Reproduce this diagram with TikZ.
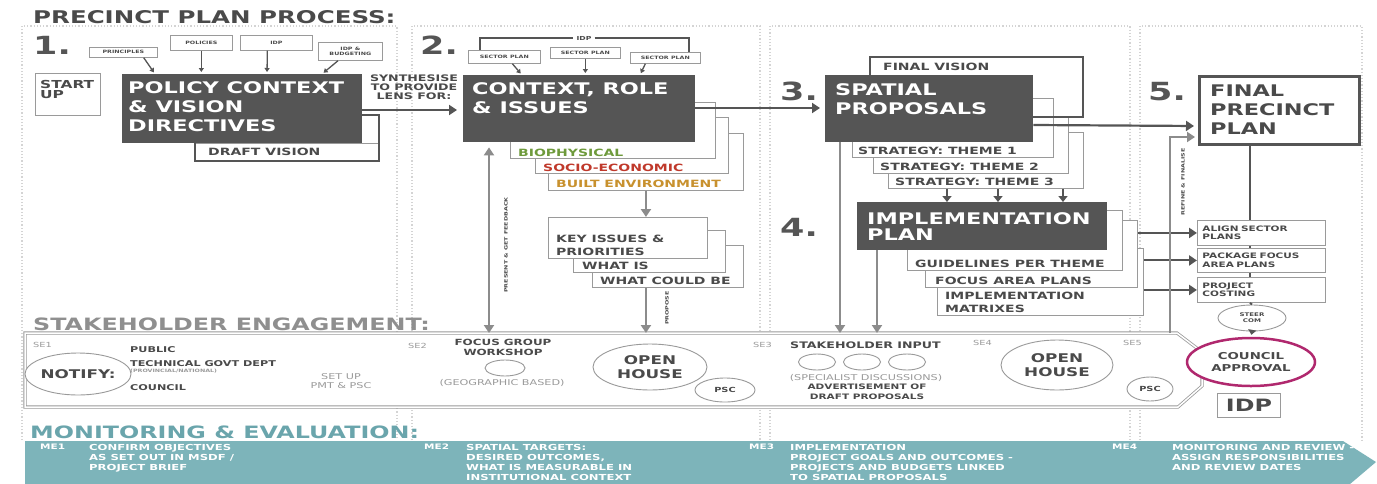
\documentclass[tikz,border=0pt]{standalone}
\usepackage{fontspec}
\newfontfamily\widefont[FakeStretch=1.4]{DejaVu Sans}
\newcommand\wb{\widefont\bfseries}
\usetikzlibrary{arrows.meta,positioning,shapes.geometric}
\definecolor{dk}{HTML}{555555}
\definecolor{ln}{HTML}{9A9A9A}
\definecolor{tx}{HTML}{4A4A4A}
\definecolor{ar}{HTML}{8C8C8C}
\definecolor{sep}{HTML}{D4D4D4}
\definecolor{bioc}{HTML}{6E9A3C}
\definecolor{socc}{HTML}{C0392B}
\definecolor{bltc}{HTML}{C8912E}
\definecolor{couc}{HTML}{B0286E}
\definecolor{metl}{HTML}{7DB4BA}
\definecolor{mehd}{HTML}{6AA5AC}
\definecolor{sehd}{HTML}{8F8F8F}
\tikzset{
  darkbox/.style={fill=dk, anchor=north west, inner sep=0pt},
  thinbox/.style={draw=ln, fill=white, line width=0.9pt, anchor=north west, inner sep=0pt},
  srcbox/.style={thinbox, line width=0.7pt, text=tx, align=center, font=\wb\fontsize{4.5}{5.5}\selectfont},
  bigtxt/.style={text=white, font=\wb\fontsize{16}{19}\selectfont, align=left, inner sep=0pt},
  midtxt/.style={text=tx, font=\wb\fontsize{10}{13}\selectfont, align=left, inner sep=0pt},
  smtxt/.style={text=tx, font=\wb\fontsize{8}{10}\selectfont, align=center, inner sep=0pt},
  tinytxt/.style={text=tx, font=\wb\fontsize{4.5}{5.5}\selectfont, align=center, inner sep=0pt},
  greytxt/.style={text=ln, font=\widefont\fontsize{8}{9.5}\selectfont, align=center, inner sep=0pt},
  setag/.style={text=ln, font=\widefont\fontsize{7}{7}\selectfont, anchor=west, inner sep=0pt},
  stepnum/.style={text=dk, font=\wb\fontsize{25}{25}\selectfont, anchor=north west, inner sep=0pt},
  bubble/.style={ellipse, draw=ln, line width=0.9pt, fill=white, inner sep=0pt, text=tx, align=center},
  flow/.style={draw=dk, line width=2.2pt, -{Triangle[length=8pt,width=10pt]}},
  gflow/.style={draw=ar, line width=2.5pt, -{Triangle[length=8pt,width=10pt]}},
  sflow/.style={draw=dk, line width=1.3pt, shorten >=2pt, -{Triangle[length=4pt,width=5pt]}},
  loopline/.style={draw=dk, line width=2.6pt},
  hd/.style={font=\wb\fontsize{17}{17}\selectfont, anchor=base west, inner sep=0pt},
  metxt/.style={text=white, font=\wb\fontsize{8.3}{10}\selectfont, align=left, anchor=north west, inner sep=0pt}
}
\begin{document}
\begin{tikzpicture}[x=1pt,y=-1pt]
\useasboundingbox (0,0) rectangle (1377,483);
\clip (0,0) rectangle (1377,483);
\fill[white] (0,0) rectangle (1377,483);

% column frames
\foreach \a/\b in {22/397,412/760,770/1130,1140/1362}
  \draw[sep, dotted, line width=1.2pt] (\a,440) -- (\a,26) -- (\b,26) -- (\b,440);

\node[hd, text=tx, font=\wb\fontsize{17.5}{17.5}\selectfont] (title) at (33,23) {PRECINCT PLAN PROCESS:};

% stakeholder band
\coordinate (setop) at (0,333);
\draw[ln, line width=0.8pt, double=white, double distance=1.5pt, fill=white]
  (25,333) -- (1177,333) -- (1202,352) -- (1202,386) -- (1178,407) -- (25,407) -- cycle;
\node[hd, text=sehd] (sehead) at (33,330) {STAKEHOLDER ENGAGEMENT:};

% 1. policy context
\node[stepnum] (n1) at (33,36) {1.};
\node[srcbox, minimum width=68, minimum height=10] (princ) at (89,47) {PRINCIPLES};
\node[srcbox, minimum width=62, minimum height=15] (polc) at (170,35) {POLICIES};
\node[srcbox, minimum width=72, minimum height=15] (idp1) at (240,35) {IDP};
\node[srcbox, minimum width=64, minimum height=18] (budg) at (318,42) {IDP \&\\BUDGETING};
\node[thinbox, minimum width=65, minimum height=42] (start) at (35,73) {};
\node[midtxt, font=\wb\fontsize{11}{10.5}\selectfont, below right=7pt and 5pt of start.north west] (starttxt) {START\\UP};
\node[thinbox, minimum width=183, minimum height=17] (draft) at (195,143) {};
\node[midtxt, right=13pt of draft.west] (drafttxt) {DRAFT VISION};
\node[darkbox, minimum width=240, minimum height=69] (pol) at (122,74) {};
\node[bigtxt, below right=7pt and 6pt of pol.north west] (poltxt) {POLICY CONTEXT\\\& VISION\\DIRECTIVES};
\draw[sflow] ([xshift=-14pt]princ.south east) -- ([xshift=33pt]pol.north west);
\draw[sflow] (polc.south) -- (polc.south |- pol.north);
\draw[sflow] ([xshift=-9pt]idp1.south) -- ([xshift=145pt]pol.north west);
\draw[sflow] ([xshift=20pt]budg.south west) -- ([xshift=200pt]pol.north west);
\draw[loopline] ([yshift=-41pt]pol.north east) -| (draft.south east) -- (draft.south west) -- (draft.north west);
\node[smtxt, font=\wb\fontsize{9}{9}\selectfont, anchor=north] (syn) at (414,75) {SYNTHESISE\\TO PROVIDE\\LENS FOR:};

% 2. context, role & issues
\node[stepnum] (n2) at (420,36) {2.};
\node[thinbox, minimum width=195, minimum height=57] (blt) at (548,133) {};
\node[thinbox, minimum width=193, minimum height=56] (soc) at (535,117) {};
\node[thinbox, minimum width=205, minimum height=56] (bio) at (510,102) {};
\node[darkbox, minimum width=232, minimum height=67] (ctx) at (463,75) {};
\node[bigtxt, below right=7pt and 9pt of ctx.north west] (ctxtxt) {CONTEXT, ROLE\\\& ISSUES};
\node[midtxt, text=bioc, above right=2pt and 8pt of bio.south west] (biotxt) {BIOPHYSICAL};
\node[midtxt, text=socc, above right=2pt and 8pt of soc.south west] (soctxt) {SOCIO-ECONOMIC};
\node[midtxt, text=bltc, above right=3pt and 8pt of blt.south west] (blttxt) {BUILT ENVIRONMENT};
\node[srcbox, minimum width=72, minimum height=13] (sp1) at (468,50) {SECTOR PLAN};
\node[srcbox, minimum width=70, minimum height=11] (sp2) at (550,47) {SECTOR PLAN};
\node[srcbox, minimum width=70, minimum height=11] (sp3) at (630,52) {SECTOR PLAN};
\node[tinytxt, font=\wb\fontsize{5.5}{6}\selectfont, inner sep=3pt] (idp2) at (584,38) {IDP};
\draw[dk, line width=1.6pt] ([xshift=12pt]sp1.north west) |- (idp2.west);
\draw[dk, line width=1.6pt] (idp2.east) -| ([xshift=-12pt]sp3.north east);
\draw[sflow] ([xshift=8pt]sp1.south) -- ([xshift=59pt]ctx.north west);
\draw[sflow] (sp2.south) -- (sp2.south |- ctx.north);
\draw[sflow] ([xshift=-20pt]sp3.south) -- ([xshift=177pt]ctx.north west);
\draw[flow, shorten >=6pt] ([yshift=-36pt]pol.north east) -- ([yshift=-35pt]ctx.north west);
\node[thinbox, minimum width=151, minimum height=42] (key3) at (592,245) {};
\node[thinbox, minimum width=152, minimum height=42] (key2) at (573,230) {};
\node[thinbox, minimum width=159, minimum height=41] (key1) at (548,217) {};
\node[midtxt, above right=3pt and 8pt of key1.south west] (key1txt) {KEY ISSUES \&\\PRIORITIES};
\node[midtxt, above right=3pt and 9pt of key2.south west] (key2txt) {WHAT IS};
\node[midtxt, above right=3pt and 8pt of key3.south west] (key3txt) {WHAT COULD BE};
\draw[gflow] (blt.south) -- (blt.south |- key1.north);
\coordinate (kp) at ([xshift=-22pt]key3.south);
\draw[gflow] (kp) -- (kp |- setop);
\node[tinytxt, rotate=90] (proptxt) at (667,308) {PROPOSE};
\coordinate (fb) at ([xshift=26pt]ctx.south west);
\draw[gflow, {Triangle[length=8pt,width=10pt]}-{Triangle[length=8pt,width=10pt]}, shorten <=5pt] (fb) -- (fb |- setop);
\node[tinytxt, rotate=90] (fbtxt) at (506,245) {PRESENT \& GET FEEDBACK};

% 3. spatial proposals
\node[stepnum] (n3) at (780,82) {3.};
\node[thinbox, minimum width=195, minimum height=56] (st3) at (888,132) {};
\node[thinbox, minimum width=195, minimum height=56] (st2) at (873,117) {};
\node[thinbox, minimum width=201, minimum height=59] (st1) at (852,98) {};
\node[darkbox, minimum width=208, minimum height=67] (spa) at (825,75) {};
\node[bigtxt, below right=8pt and 10pt of spa.north west] (spatxt) {SPATIAL\\PROPOSALS};
\coordinate (fv) at (1083,57);
\draw[loopline] ([xshift=45pt]spa.north west) |- (fv) |- ([yshift=-42pt]spa.north east);
\node[midtxt, anchor=west] (fvtxt) at (883,67) {FINAL VISION};
\node[midtxt, above right=3pt and 6pt of st1.south west] (st1txt) {STRATEGY: THEME 1};
\node[midtxt, above right=3pt and 7pt of st2.south west] (st2txt) {STRATEGY: THEME 2};
\node[midtxt, above right=3pt and 7pt of st3.south west] (st3txt) {STRATEGY: THEME 3};
\draw[flow, shorten >=5pt] ([yshift=-33pt]ctx.north east) -- ([yshift=-33pt]spa.north west);

% 4. implementation plan
\node[stepnum] (n4) at (780,218) {4.};
\node[thinbox, minimum width=206, minimum height=67] (im3) at (937,248) {};
\node[thinbox, minimum width=212, minimum height=67] (im2) at (925,220) {};
\node[thinbox, minimum width=215, minimum height=60] (im1) at (907,210) {};
\node[darkbox, minimum width=250, minimum height=48] (imp) at (857,202) {};
\node[bigtxt, font=\wb\fontsize{16}{16.5}\selectfont, below right=10pt and 10pt of imp.north west] (imptxt) {IMPLEMENTATION\\PLAN};
\node[midtxt, above right=3pt and 8pt of im1.south west] (im1txt) {GUIDELINES PER THEME};
\node[midtxt, above right=3pt and 10pt of im2.south west] (im2txt) {FOCUS AREA PLANS};
\node[midtxt, above right=3pt and 8pt of im3.south west] (im3txt) {IMPLEMENTATION\\MATRIXES};
\foreach \dx/\ex in {59/90,110/141,175/206}
  \draw[flow, line width=2pt, -{Triangle[length=6pt,width=9pt]}] ([xshift=\dx pt]st3.south west) -- ([xshift=\ex pt]imp.north west);
\coordinate (sv) at ([xshift=15pt]spa.south west);
\draw[gflow] (sv) -- (sv |- setop);
\coordinate (iv) at ([xshift=20pt]imp.south west);
\draw[gflow] (iv) -- (iv |- setop);

% 5. final precinct plan
\node[stepnum] (n5) at (1148,82) {5.};
\node[thinbox, draw=dk, line width=2.5pt, minimum width=160, minimum height=68] (fin) at (1198,75) {};
\node[bigtxt, text=tx, below right=10pt and 12pt of fin.north west] (fintxt) {FINAL\\PRECINCT\\PLAN};
\draw[flow, shorten >=4pt] ([yshift=-50pt]spa.north east) -- ([yshift=-51pt]fin.north west);
\node[thinbox, minimum width=128, minimum height=25, text width=118, align=left, text=tx, font=\wb\fontsize{7.5}{8.5}\selectfont] (al1) at (1197,220) {ALIGN SECTOR\\PLANS};
\node[thinbox, minimum width=128, minimum height=24, text width=118, align=left, text=tx, font=\wb\fontsize{7.5}{8.5}\selectfont] (al2) at (1197,248) {PACKAGE FOCUS\\AREA PLANS};
\node[thinbox, minimum width=128, minimum height=25, text width=118, align=left, text=tx, font=\wb\fontsize{7.5}{8.5}\selectfont] (al3) at (1197,277) {PROJECT\\COSTING};
\draw[dk, line width=2.4pt] ([xshift=52pt]fin.south west) -- ([xshift=53pt]al1.north west);
\draw[dk, line width=2pt] ([xshift=53pt]al1.south west) -- ([xshift=53pt]al2.north west);
\draw[dk, line width=2pt] ([xshift=53pt]al2.south west) -- ([xshift=53pt]al3.north west);
\draw[flow, line width=2pt] (im2.east |- al1.west) -- (al1.west);
\draw[flow, line width=2pt] (im3.east |- al2.west) -- (al2.west);
\draw[flow, line width=2pt] (im3.east |- al3.west) -- (al3.west);
\coordinate (rf) at (1170,333);
\draw[gflow, line width=2pt, shorten >=3pt] (rf) |- ([yshift=-62pt]fin.north west);
\node[tinytxt, rotate=90] (rftxt) at (1183,182) {REFINE \& FINALISE};
\node[bubble, minimum width=68, minimum height=26, font=\wb\fontsize{5}{6}\selectfont] (steer) at (1252,318) {STEER\\COM};
\draw[dk, line width=2pt] ([xshift=53pt]al3.south west) -- (steer.north);
\node[bubble, draw=couc, line width=2.5pt, minimum width=128, minimum height=48, font=\wb\fontsize{9.5}{12.5}\selectfont] (cou) at (1251,362) {COUNCIL\\APPROVAL};
\draw[sflow, line width=2pt, -{Triangle[length=5pt,width=8pt]}] (steer.south) -- (cou.north);
\node[thinbox, minimum width=63, minimum height=24, text=tx, font=\wb\fontsize{17}{17}\selectfont] (idp3) at (1217,393) {IDP};

% stakeholder engagement
\node[setag] (se1) at (33,345) {SE1};
\node[bubble, minimum width=90, minimum height=42, font=\wb\fontsize{12}{12}\selectfont] (notify) at (78,374) {NOTIFY:};
\node[smtxt, anchor=west] (pub) at (130,350) {PUBLIC};
\node[smtxt, anchor=west] (tech) at (130,364) {TECHNICAL GOVT DEPT};
\node[tinytxt, anchor=west, text=ln] (prov) at (130,371) {(PROVINCIAL/NATIONAL)};
\node[smtxt, anchor=west] (coun) at (130,388) {COUNCIL};
\node[greytxt] (setup) at (341,381) {SET UP\\PMT \& PSC};
\node[setag] (se2) at (408,346) {SE2};
\node[smtxt, font=\wb\fontsize{8.5}{10}\selectfont] (focus) at (503,347) {FOCUS GROUP\\WORKSHOP};
\node[bubble, minimum width=40, minimum height=16] (fgw) at (505,368) {};
\node[greytxt] (geo) at (502,383) {(GEOGRAPHIC BASED)};
\node[bubble, minimum width=114, minimum height=46, font=\wb\fontsize{12}{14}\selectfont] (oh1) at (650,367) {OPEN\\HOUSE};
\node[bubble, minimum width=60, minimum height=24, font=\wb\fontsize{7}{7}\selectfont] (psc1) at (725,390) {PSC};
\node[setag] (se3) at (753,345) {SE3};
\node[smtxt, font=\wb\fontsize{9}{9}\selectfont, anchor=west] (shin) at (790,345) {STAKEHOLDER INPUT};
\foreach \cx [count=\i] in {817,862,907}
  \node[bubble, minimum width=37, minimum height=16] (sh\i) at (\cx,362) {};
\node[greytxt] (spec) at (866,378) {(SPECIALIST DISCUSSIONS)};
\node[smtxt, font=\wb\fontsize{7.5}{10}\selectfont] (advert) at (867,392) {ADVERTISEMENT OF\\DRAFT PROPOSALS};
\node[setag] (se4) at (973,343) {SE4};
\node[bubble, minimum width=112, minimum height=50, font=\wb\fontsize{12}{14}\selectfont] (oh2) at (1057,365) {OPEN\\HOUSE};
\node[setag] (se5) at (1123,343) {SE5};
\node[bubble, minimum width=46, minimum height=24, font=\wb\fontsize{7}{7}\selectfont] (psc2) at (1150,389) {PSC};

% monitoring & evaluation
\node[hd, text=mehd] (mehead) at (30,438) {MONITORING \& EVALUATION:};
\fill[metl] (25,441) -- (1343,441) -- (1376,462) -- (1343,490) -- (25,490) -- cycle;
\node[metxt, font=\wb\fontsize{7.5}{10}\selectfont] (me1) at (40,444) {ME1};
\node[metxt] (me1t) at (89,444) {CONFIRM OBJECTIVES\\AS SET OUT IN MSDF /\\PROJECT BRIEF};
\node[metxt, font=\wb\fontsize{7.5}{10}\selectfont] (me2) at (424,444) {ME2};
\node[metxt] (me2t) at (466,444) {SPATIAL TARGETS:\\DESIRED OUTCOMES,\\WHAT IS MEASURABLE IN\\INSTITUTIONAL CONTEXT};
\node[metxt, font=\wb\fontsize{7.5}{10}\selectfont] (me3) at (749,444) {ME3};
\node[metxt] (me3t) at (790,444) {IMPLEMENTATION\\PROJECT GOALS AND OUTCOMES -\\PROJECTS AND BUDGETS LINKED\\TO SPATIAL PROPOSALS};
\node[metxt, font=\wb\fontsize{7.5}{10}\selectfont] (me4) at (1112,444) {ME4};
\node[metxt] (me4t) at (1172,444) {MONITORING AND REVIEW -\\ASSIGN RESPONSIBILITIES\\AND REVIEW DATES};
\end{tikzpicture}
\end{document}
